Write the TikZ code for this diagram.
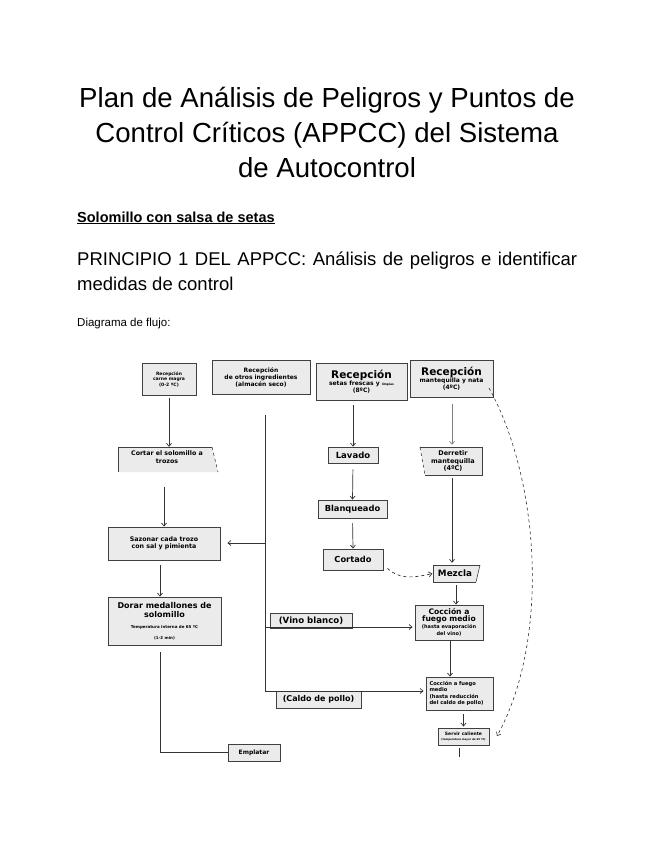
\documentclass[tikz,border=0pt]{standalone}
\usepackage{fontspec}
\setmainfont{Liberation Sans}
\newfontfamily\handfont{DejaVu Sans}
\usetikzlibrary{arrows.meta,calc}
\begin{document}
\begin{tikzpicture}[x=1pt,y=-1pt,
  box/.style={draw=black!75, fill=black!8, line width=0.9pt, inner sep=1pt, align=center,
    font=\handfont\bfseries\fontsize{6}{7}\selectfont},
  lbl/.style={font=\handfont\bfseries\fontsize{6}{7}\selectfont, align=center, inner sep=0pt},
  shp/.style={fill=black!8},
  edge/.style={draw=black!75, line width=0.9pt},
  flow/.style={-{Straight Barb[length=3pt,width=5pt]}, line width=0.7pt, draw=black!80},
  plain/.style={line width=0.7pt, draw=black!80}]
\useasboundingbox[fill=white] (0,0) rectangle (655,848);

% ---------- headings ----------
\node[align=center, font=\fontsize{27.6}{35}\selectfont] (title) at (327,132)
  {Plan de Análisis de Peligros y Puntos de\\Control Críticos (APPCC) del Sistema\\de Autocontrol};
\node[anchor=base west, inner sep=0pt, font=\bfseries\fontsize{14.5}{16}\selectfont] (sub) at (77,222)
  {\underline{Solomillo con salsa de setas}};
\node[anchor=base west, inner sep=0pt, font=\fontsize{18.5}{22}\selectfont] (pr1) at (77,265)
  {\makebox[500pt][s]{PRINCIPIO 1 DEL APPCC: Análisis de peligros e identificar}};
\node[anchor=base west, inner sep=0pt, font=\fontsize{18.5}{22}\selectfont] (pr2) at (77,290)
  {medidas de control};
\node[anchor=base west, inner sep=0pt, font=\fontsize{11.5}{13}\selectfont] (dia) at (77,326)
  {Diagrama de flujo:};

% ---------- reception boxes ----------
\node[box, minimum width=54pt, minimum height=32pt, font=\handfont\bfseries\fontsize{4.5}{5.5}\selectfont] (carne) at (169,379)
  {Recepción\\carne magra\\(0-2 ºC)};
\node[box, minimum width=98pt, minimum height=34pt, font=\handfont\bfseries\fontsize{6}{7}\selectfont] (otros) at (261,377)
  {Recepción\\de otros ingredientes\\(almacén seco)};
\node[box, minimum width=91pt, minimum height=37pt, font=\handfont\bfseries\fontsize{6}{7}\selectfont] (setas) at (361.5,381.5)
  {{\fontsize{10.5}{12}\selectfont Recepción}\\setas frescas y {\fontsize{3}{4}\selectfont limpias}\\(8ºC)};
\node[box, minimum width=83pt, minimum height=37pt, font=\handfont\bfseries\fontsize{6}{7}\selectfont] (mant) at (451.5,378.5)
  {{\fontsize{10.5}{12}\selectfont Recepción}\\mantequilla y nata\\(4ºC)};

% ---------- left column ----------
\fill[shp] (118,447) -- (212,447) -- (218,472) -- (118,472) -- cycle;
\draw[edge] (118,472) -- (118,447) -- (212,447);
\draw[edge, dashed, line width=0.6pt] (212,447) -- (218,472);
\node[minimum width=100pt, minimum height=25pt, inner sep=0pt] (cortar) at (168,459.5) {};
\node[lbl, font=\handfont\bfseries\fontsize{6.3}{7.3}\selectfont] (cortartxt) at (167,457) {Cortar el solomillo a\\trozos};

\node[box, minimum width=112pt, minimum height=33pt, font=\handfont\bfseries\fontsize{6.3}{7.5}\selectfont] (sazonar) at (164,543.5)
  {Sazonar cada trozo\\con sal y pimienta};
\node[box, minimum width=113pt, minimum height=48pt, font=\handfont\bfseries\fontsize{8}{9}\selectfont] (dorar) at (164.5,621)
  {Dorar medallones de\\solomillo\\[2pt]
   {\fontsize{4}{5}\selectfont Temperatura interna de 65 ºC}\\[2pt]{\fontsize{4}{5}\selectfont (1-2 min)}};
\node[box, minimum width=52pt, minimum height=17pt, font=\handfont\bfseries\fontsize{6}{7}\selectfont] (emp1) at (254,752.5) {Emplatar};

% ---------- setas column ----------
\node[box, minimum width=50pt, minimum height=16pt, font=\handfont\bfseries\fontsize{8.5}{9}\selectfont] (lavado) at (353,455) {Lavado};
\node[box, minimum width=69pt, minimum height=18pt, font=\handfont\bfseries\fontsize{8.3}{9}\selectfont] (blanq) at (352.5,509) {Blanqueado};
\node[box, minimum width=60pt, minimum height=21pt, font=\handfont\bfseries\fontsize{8.3}{9}\selectfont] (cortado) at (353,559.5) {Cortado};

% ---------- right column ----------
\fill[shp] (420,447) -- (482,447) -- (482,475) -- (425,475) -- cycle;
\draw[edge] (420,447) -- (482,447) -- (482,475) -- (425,475);
\draw[edge, dashed, line width=0.6pt] (420,447) -- (425,475);
\node[minimum width=62pt, minimum height=28pt, inner sep=0pt] (derretir) at (452,461) {};
\node[lbl, font=\handfont\bfseries\fontsize{6.5}{7.8}\selectfont] (derrtxt) at (453,461) {Derretir\\mantequilla\\(4ºC)};

\fill[shp] (433,565) -- (480,565) -- (476,582) -- (433,582) -- cycle;
\draw[edge] (480,565) -- (433,565) -- (433,582) -- (476,582);
\draw[edge, line width=0.6pt] (480,565) -- (476,582);
\node[minimum width=47pt, minimum height=17pt, inner sep=0pt] (mezcla) at (456,573.5) {};
\node[lbl, font=\handfont\bfseries\fontsize{8.8}{9}\selectfont] (mezctxt) at (455,573.5) {Mezcla};

\node[box, minimum width=82pt, minimum height=15pt, inner sep=0pt, font=\handfont\bfseries\fontsize{8.6}{9}\selectfont] (vino) at (311,620.5) {(Vino blanco)};
\node[box, minimum width=68pt, minimum height=35pt, inner sep=0pt] (coc1) at (449,622.5)
  {{\fontsize{7.6}{8.4}\selectfont Cocción a}\\{\fontsize{7.6}{8.4}\selectfont fuego medio}\\{\fontsize{5}{5.8}\selectfont (hasta evaporación}\\{\fontsize{5}{5.8}\selectfont del vino)}};
\node[box, minimum width=85pt, minimum height=17pt, inner sep=0pt, font=\handfont\bfseries\fontsize{8}{9}\selectfont] (caldo) at (318.5,699.5) {(Caldo de pollo)};
\node[box, minimum width=67pt, minimum height=33pt, align=left, text width=60pt, font=\handfont\bfseries\fontsize{5.2}{6.5}\selectfont] (coc2) at (459.5,693.5)
  {Cocción a fuego\\medio\\(hasta reducción\\del caldo de pollo)};
\node[box, minimum width=51pt, minimum height=17pt, inner sep=0pt, font=\handfont\bfseries\fontsize{4.5}{5.5}\selectfont] (emp2) at (463.5,736.5)
  {Servir caliente\\{\fontsize{2.6}{3.2}\selectfont (temperatura mayor de 65 ºC)}};

% ---------- connectors ----------
\draw[flow, shorten <=3pt] (carne.south) -- (carne.south |- cortar.north);
\draw[flow] (164,487) coordinate (c1) -- (c1 |- sazonar.north);
\draw[flow] (160,565) coordinate (c2) -- (c2 |- dorar.north);
\coordinate (d1) at (160,652);
\draw[plain] (d1) |- (emp1.west);

\coordinate (t1) at (265,415);
\coordinate (t4) at (265,691);
\draw[plain] (t1) -- (t4);
\coordinate (tsaz) at (265,543);
\draw[flow, shorten >=7pt] (tsaz) -- (sazonar.east |- tsaz);
\coordinate (tvino) at (265,627);
\draw[flow, shorten >=2pt] (tvino) -- (coc1.west |- tvino);
\draw[flow, shorten >=2pt] (t4) -- (coc2.west |- t4);

\draw[flow, shorten <=5pt] (setas.south -| lavado.north) -- (lavado.north);
\draw[flow, shorten <=6pt] (lavado.south) -- (blanq.north);
\draw[flow, shorten <=5pt] (blanq.south) -- (cortado.north);
\draw[flow, dashed] ($(cortado.east)+(4,9)$) .. controls (398,578) and (410,579) .. (mezcla.west);

\draw[flow, draw=black!50, shorten <=7pt, shorten >=2pt] (mant.south -| derretir.north) -- (derretir.north);
\draw[flow, shorten <=3pt, shorten >=2pt] (derretir.south) -- (derretir.south |- mezcla.north);
\draw[flow, shorten <=3pt] (mezcla.south) -- (mezcla.south |- coc1.north);
\draw[flow] (450,640) coordinate (c3) -- (c3 |- coc2.north);
\draw[flow, shorten <=4pt, shorten >=1pt] (coc2.south -| emp2.north) -- (emp2.north);
\coordinate (e2) at (459,748);
\draw[plain] (e2) -- ++(0,9);

\coordinate (m1) at (489,388);
\coordinate (m2) at (497,736);
\draw[flow, dashed, line width=0.6pt] (m1) .. controls (540,480) and (550,640) .. (m2);
\end{tikzpicture}
\end{document}
